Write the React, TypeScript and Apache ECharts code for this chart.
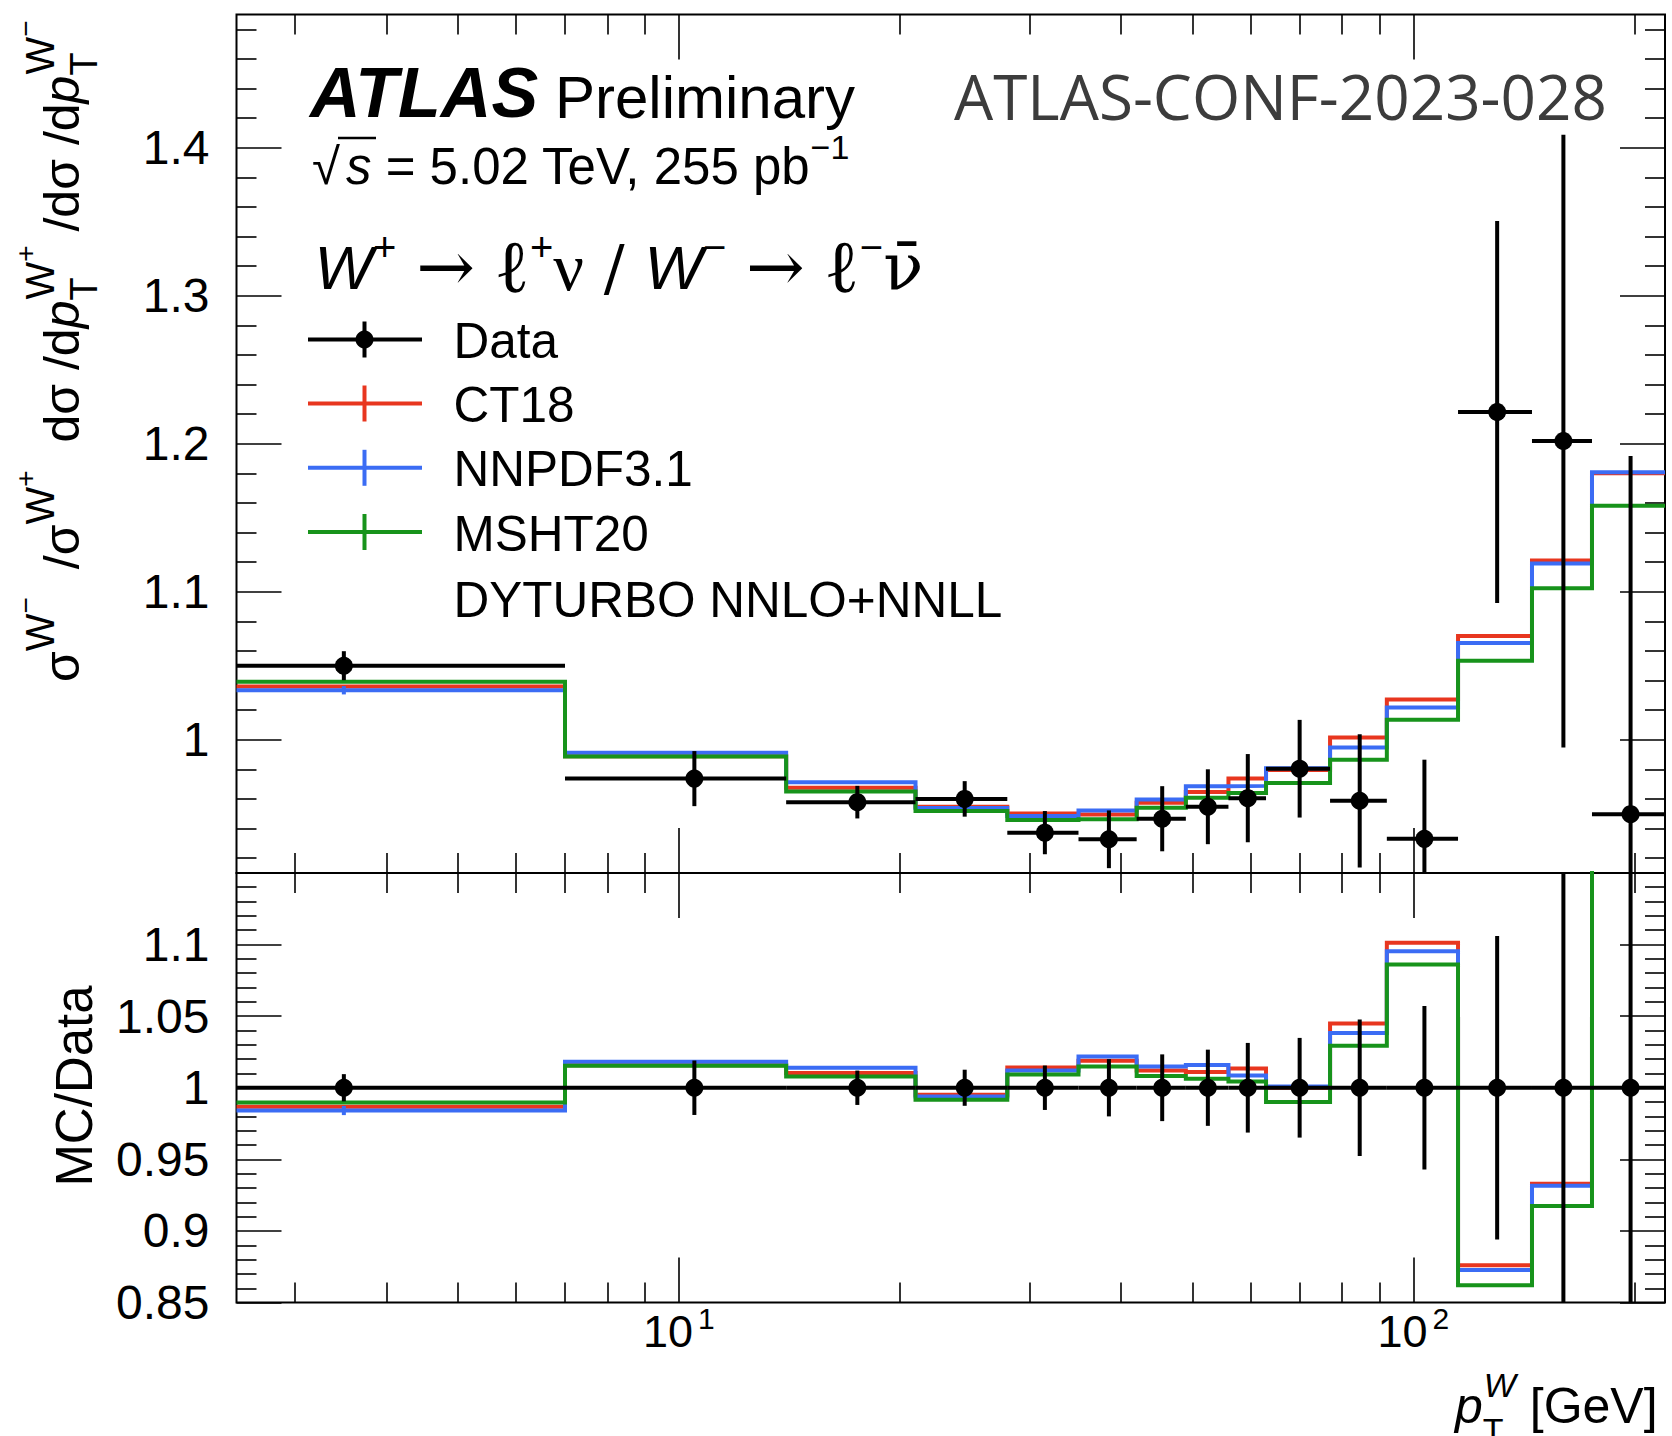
import React, { useEffect, useRef } from 'react';
import * as echarts from 'echarts';

// ---------------- data ----------------
const binEdges = [0, 7, 14, 21, 28, 35, 42, 49, 56, 63, 77, 92, 115, 145, 175, 220];
const binCenters = [3.5, 10.5, 17.5, 24.5, 31.5, 38.5, 45.5, 52.5, 59.5, 70, 84.5, 103.5, 130, 160, 197.5];

const dataMain = [1.050, 0.9737, 0.9578, 0.9600, 0.9372, 0.9327, 0.9466, 0.9547, 0.9605, 0.9804, 0.9587, 0.9330, 1.2214, 1.2018, 0.9497];
const dataMainErr = [0.0098, 0.0186, 0.0110, 0.0120, 0.0146, 0.0195, 0.0220, 0.0253, 0.0298, 0.0330, 0.0450, 0.0535, 0.1290, 0.2070, 0.2420];
const ct18Main = [1.0359, 0.9889, 0.9675, 0.9547, 0.9502, 0.9495, 0.9574, 0.9646, 0.9737, 0.9795, 1.0015, 1.0271, 1.0701, 1.1210, 1.1800];
const nnpdfMain = [1.0334, 0.9911, 0.9712, 0.9538, 0.9484, 0.9522, 0.9596, 0.9686, 0.9688, 0.9807, 0.9948, 1.0217, 1.0653, 1.1190, 1.1807];
const nnpdfMainErr = [0.0028, 0, 0, 0, 0, 0, 0, 0, 0, 0, 0, 0, 0, 0, 0];
const mshtMain = [1.0391, 0.9886, 0.9650, 0.9518, 0.9457, 0.9462, 0.9540, 0.9608, 0.9640, 0.9708, 0.9864, 1.0135, 1.0533, 1.1024, 1.1581];

const dataRatio = [1, 1, 1, 1, 1, 1, 1, 1, 1, 1, 1, 1, 1, 1, 1];
const dataRatioErr = [0.0095, 0.0190, 0.0120, 0.0126, 0.0155, 0.0200, 0.0233, 0.0266, 0.0313, 0.0348, 0.0476, 0.0570, 0.1060, 0.1720, 0.2550];
const ct18Ratio = [0.9867, 1.0157, 1.0103, 0.9951, 1.0142, 1.0189, 1.0121, 1.0110, 1.0135, 1.0000, 1.0448, 1.1012, 0.8760, 0.9329, 1.2430];
const nnpdfRatio = [0.9841, 1.0182, 1.0140, 0.9939, 1.0121, 1.0219, 1.0149, 1.0159, 1.0086, 1.0008, 1.0382, 1.0953, 0.8727, 0.9315, 1.2430];
const nnpdfRatioErr = [0.0032, 0, 0, 0, 0, 0, 0, 0, 0, 0, 0, 0, 0, 0, 0];
const mshtRatio = [0.9897, 1.0154, 1.0079, 0.9916, 1.0093, 1.0149, 1.0082, 1.0063, 1.0044, 0.9900, 1.0294, 1.0860, 0.8622, 0.9175, 1.2190];

// ---------------- axes / ticks ----------------
const xRange = [2.5, 220];
const xMajorTicks = [10, 100];
const xMinorTicks = [3, 4, 5, 6, 7, 8, 9, 20, 30, 40, 50, 60, 70, 80, 90, 200];
const upperRange = [0.91, 1.49];
const upperLabels = [1, 1.1, 1.2, 1.3, 1.4];
const upperMinor = [0.92, 0.94, 0.96, 0.98, 1.02, 1.04, 1.06, 1.08, 1.12, 1.14, 1.16, 1.18, 1.22, 1.24, 1.26, 1.28, 1.32, 1.34, 1.36, 1.38, 1.42, 1.44, 1.46, 1.48];
const lowerRange = [0.85, 1.15];
const lowerLabels = [0.85, 0.9, 0.95, 1, 1.05, 1.1];
const lowerMinor = [0.86, 0.87, 0.88, 0.89, 0.91, 0.92, 0.93, 0.94, 0.96, 0.97, 0.98, 0.99, 1.01, 1.02, 1.03, 1.04, 1.06, 1.07, 1.08, 1.09, 1.11, 1.12, 1.13, 1.14];

const legendLabels = ['Data', 'CT18', 'NNPDF3.1', 'MSHT20', 'DYTURBO NNLO+NNLL'];

// ---------------- style ----------------
const FONT = '"Liberation Sans", Arial, Helvetica, sans-serif';
const SERIF = '"Liberation Serif", "DejaVu Serif", serif';
const DSERIF = '"DejaVu Serif", serif';
const CONF_FONT = '"Open Sans", "Noto Sans", sans-serif';
const COL_CT18 = '#e8361f';
const COL_NNPDF = '#3b6cf4';
const COL_MSHT = '#17931b';

const lg = (v: number) => Math.log10(v);

const G_LEFT = 236.5;
const G_WIDTH = 1428.5;
const G0_TOP = 14.5;
const G0_H = 858.4;
const G1_TOP = 872.9;
const G1_H = 429.7;
const MAJOR_LEN = 45;
const MINOR_LEN = 20;
const TICK_W = 1.6;

function stepLine(vals: number[]) {
  const pts: number[][] = [];
  vals.forEach((v, i) => {
    pts.push([lg(Math.max(binEdges[i], xRange[0])), v]);
    pts.push([lg(Math.min(binEdges[i + 1], xRange[1])), v]);
  });
  return pts;
}

function pointRows(vals: number[], errs: number[]) {
  return vals.map((v, i) => [
    lg(binCenters[i]),
    v,
    errs[i],
    lg(Math.max(binEdges[i], xRange[0])),
    lg(Math.min(binEdges[i + 1], xRange[1])),
  ]);
}

const renderData = (params: any, api: any) => {
  const cx = api.value(0);
  const v = api.value(1);
  const e = api.value(2);
  const xl = api.value(3);
  const xr = api.value(4);
  const c = api.coord([cx, v]);
  const l = api.coord([xl, v]);
  const r = api.coord([xr, v]);
  const t = api.coord([cx, v + e]);
  const b = api.coord([cx, v - e]);
  const cs = params.coordSys;
  const top = cs.y;
  const bot = cs.y + cs.height;
  const cl = (y: number) => Math.min(bot, Math.max(top, y));
  return {
    type: 'group',
    children: [
      { type: 'line', shape: { x1: l[0], y1: c[1], x2: r[0], y2: c[1] }, style: { stroke: '#000', lineWidth: 4 } },
      { type: 'line', shape: { x1: c[0], y1: cl(t[1]), x2: c[0], y2: cl(b[1]) }, style: { stroke: '#000', lineWidth: 4 } },
      { type: 'circle', shape: { cx: c[0], cy: c[1], r: 9 }, style: { fill: '#000' } },
    ],
  };
};

const makeRenderMcErr = (color: string) => (params: any, api: any) => {
  const cx = api.value(0);
  const v = api.value(1);
  const e = api.value(2);
  if (!(e > 0)) return { type: 'group', children: [] };
  const t = api.coord([cx, v + e]);
  const b = api.coord([cx, v - e]);
  return { type: 'line', shape: { x1: t[0], y1: t[1], x2: b[0], y2: b[1] }, style: { stroke: color, lineWidth: 4 } };
};

function xAxisDef(gridIndex: number, position: string, values: number[], len: number, labels: boolean) {
  return {
    type: 'value',
    gridIndex,
    position,
    min: lg(xRange[0]),
    max: lg(xRange[1]),
    axisLine: { show: false, onZero: false },
    splitLine: { show: false },
    axisTick: { show: true, inside: true, length: len, customValues: values.map(lg), lineStyle: { color: '#000', width: TICK_W } },
    axisLabel: labels
      ? {
          show: true,
          customValues: xMajorTicks.map(lg),
          margin: 7,
          formatter: (v: number) => `{b|10}{s|${Math.round(v)}}`,
          rich: {
            b: { fontSize: 45, fontFamily: FONT, color: '#000', lineHeight: 44, verticalAlign: 'middle' },
            s: { fontSize: 30, fontFamily: FONT, color: '#000', lineHeight: 44, height: 18, verticalAlign: 'top', padding: [0, 0, 0, 5] },
          },
        }
      : { show: false },
  };
}

function yAxisDef(gridIndex: number, position: string, range: number[], values: number[], len: number, labels: number[] | null) {
  return {
    type: 'value',
    gridIndex,
    position,
    min: range[0],
    max: range[1],
    axisLine: { show: false, onZero: false },
    splitLine: { show: false },
    axisTick: { show: true, inside: true, length: len, customValues: values, lineStyle: { color: '#000', width: TICK_W } },
    axisLabel: labels
      ? {
          show: true,
          customValues: labels,
          margin: 27,
          fontSize: 48,
          fontFamily: FONT,
          color: '#000',
          formatter: (v: number) => String(Number(Number(v).toFixed(2))),
        }
      : { show: false },
  };
}

const mcSeries = (name: string, vals: number[], color: string, xi: number, yi: number, z: number) => ({
  name,
  type: 'line',
  xAxisIndex: xi,
  yAxisIndex: yi,
  data: stepLine(vals),
  symbol: 'none',
  showSymbol: false,
  clip: true,
  z,
  silent: true,
  lineStyle: { color, width: 4, join: 'miter', cap: 'butt' },
});

const mcErrSeries = (vals: number[], errs: number[], color: string, xi: number, yi: number, z: number) => ({
  type: 'custom',
  xAxisIndex: xi,
  yAxisIndex: yi,
  z,
  silent: true,
  encode: { x: 0, y: 1 },
  data: pointRows(vals, errs),
  renderItem: makeRenderMcErr(color),
});

const dataSeries = (vals: number[], errs: number[], xi: number, yi: number) => ({
  name: 'Data',
  type: 'custom',
  xAxisIndex: xi,
  yAxisIndex: yi,
  z: 10,
  silent: true,
  encode: { x: 0, y: 1 },
  data: pointRows(vals, errs),
  renderItem: renderData,
});

// rich-text helpers: every token shares line height L; a superscript/subscript
// is shifted by d from the line centre through its box height (L - 2d).
const tok = (fs: number, L: number, family: string, extra: any = {}) => ({
  fontSize: fs, lineHeight: L, fontFamily: family, verticalAlign: 'middle', align: 'left', fill: '#000', ...extra,
});
const supTok = (fs: number, L: number, d: number, family: string, extra: any = {}) => ({
  fontSize: fs, lineHeight: L, height: L - 2 * d, fontFamily: family, verticalAlign: 'top', align: 'left', fill: '#000', ...extra,
});
const subTok = (fs: number, L: number, d: number, family: string, extra: any = {}) => ({
  fontSize: fs, lineHeight: L, height: L - 2 * d, fontFamily: family, verticalAlign: 'bottom', align: 'left', fill: '#000', ...extra,
});

function buildGraphic() {
  const els: any[] = [];
  // ATLAS Preliminary
  els.push({ type: 'text', x: 310, y: 92.5, z: 50, style: { text: 'ATLAS', fontFamily: FONT, fontSize: 70, fontWeight: 'bold', fontStyle: 'italic', fill: '#000', align: 'left', verticalAlign: 'middle' } });
  els.push({ type: 'text', x: 555, y: 97.1, z: 50, style: { text: 'Preliminary', fontFamily: FONT, fontSize: 60, fill: '#000', align: 'left', verticalAlign: 'middle' } });
  // sqrt(s) line
  els.push({
    type: 'text', x: 312, y: 166.7, z: 50,
    style: {
      text: '{r|√}{si|s}{m| = 5.02 TeV, 255 pb}{sp|−1}', align: 'left', verticalAlign: 'middle',
      rich: {
        r: tok(51, 70, FONT),
        si: tok(51, 70, FONT, { fontStyle: 'italic', padding: [0, 0, 0, 6] }),
        m: tok(51, 70, FONT),
        sp: supTok(34, 70, 20, FONT),
      },
    },
  });
  els.push({ type: 'line', z: 50, shape: { x1: 338, y1: 138, x2: 376, y2: 138 }, style: { stroke: '#000', lineWidth: 2.5 } });
  // conference note
  els.push({ type: 'text', x: 954, y: 96, z: 50, style: { text: 'ATLAS-CONF-2023-028', fontFamily: CONF_FONT, fontSize: 62, fill: '#3c3c3c', align: 'left', verticalAlign: 'middle' } });
  // process header
  els.push({
    type: 'text', x: 314.6, y: 267.4, z: 50,
    style: {
      text: '{w|W}{s|+}{sp| }{a|→}{sp| }{l|ℓ}{s|+}{n|ν}{sp| / }{w|W}{s|−}{sp| }{a|→}{sp| }{l|ℓ}{s|−}{nb|ν̄}',
      align: 'left', verticalAlign: 'middle',
      rich: {
        w: tok(62, 90, FONT, { fontStyle: 'italic' }),
        s: supTok(40, 90, 20, FONT),
        sp: tok(62, 90, DSERIF),
        a: tok(70, 90, DSERIF),
        l: tok(74, 90, SERIF),
        n: tok(68, 90, SERIF),
        nb: tok(66, 90, DSERIF),
      },
    },
  });
  // legend
  const rowY = [339.5, 403.5, 467.8, 532, 598];
  const rowCol = ['#000', COL_CT18, COL_NNPDF, COL_MSHT];
  legendLabels.forEach((lab, i) => {
    els.push({ type: 'text', x: 453.5, y: rowY[i] + 1, z: 50, style: { text: lab, fontFamily: FONT, fontSize: 49.5, fill: '#000', align: 'left', verticalAlign: 'middle' } });
    if (i < 4) {
      els.push({ type: 'line', z: 50, shape: { x1: 308, y1: rowY[i], x2: 422, y2: rowY[i] }, style: { stroke: rowCol[i], lineWidth: 4 } });
      els.push({ type: 'line', z: 50, shape: { x1: 364.5, y1: rowY[i] - 18, x2: 364.5, y2: rowY[i] + 18 }, style: { stroke: rowCol[i], lineWidth: 4 } });
      if (i === 0) els.push({ type: 'circle', z: 51, shape: { cx: 364.5, cy: rowY[i], r: 9 }, style: { fill: '#000' } });
    }
  });
  // upper y title (rotated, reads bottom to top)
  els.push({
    type: 'text', x: 62, y: 682, rotation: Math.PI / 2, z: 50,
    style: {
      text: '{m|σ}{w|W}{ws|−}{m|  /σ}{w|W}{ws|+}{m|  dσ /d}{pi|p}{t|T}{w|W}{ws|+}{m| /dσ /d}{pi|p}{t|T}{w|W}{ws|−}',
      align: 'left', verticalAlign: 'middle',
      rich: {
        m: tok(50, 80, FONT),
        pi: tok(50, 80, FONT, { fontStyle: 'italic' }),
        w: supTok(40, 80, 22, FONT),
        ws: supTok(28, 80, 37, FONT),
        t: subTok(38, 80, 22, FONT, { width: 1 }),
      },
    },
  });
  // lower y title
  els.push({ type: 'text', x: 74, y: 1086, rotation: Math.PI / 2, z: 50, style: { text: 'MC/Data', fontFamily: FONT, fontSize: 51, fill: '#000', align: 'center', verticalAlign: 'middle' } });
  // x title
  els.push({
    type: 'text', x: 1455, y: 1405.5, z: 50,
    style: {
      text: '{p|p}{t|T}{w|W}{m| [GeV]}', align: 'left', verticalAlign: 'middle',
      rich: {
        p: tok(50, 60, FONT, { fontStyle: 'italic' }),
        t: subTok(34, 60, 24, FONT, { width: 1 }),
        w: supTok(34, 60, 21, FONT, { fontStyle: 'italic' }),
        m: tok(50, 60, FONT),
      },
    },
  });
  return els;
}

const option: any = {
  animation: false,
  backgroundColor: '#ffffff',
  textStyle: { fontFamily: FONT },
  grid: [
    { left: G_LEFT, top: G0_TOP, width: G_WIDTH, height: G0_H, show: true, borderColor: '#000', borderWidth: 2, backgroundColor: 'rgba(0,0,0,0)' },
    { left: G_LEFT, top: G1_TOP, width: G_WIDTH, height: G1_H, show: true, borderColor: '#000', borderWidth: 2, backgroundColor: 'rgba(0,0,0,0)' },
  ],
  xAxis: [
    xAxisDef(0, 'bottom', xMajorTicks, MAJOR_LEN, false),
    xAxisDef(0, 'bottom', xMinorTicks, MINOR_LEN, false),
    xAxisDef(0, 'top', xMajorTicks, MAJOR_LEN, false),
    xAxisDef(0, 'top', xMinorTicks, MINOR_LEN, false),
    xAxisDef(1, 'bottom', xMajorTicks, MAJOR_LEN, true),
    xAxisDef(1, 'bottom', xMinorTicks, MINOR_LEN, false),
    xAxisDef(1, 'top', xMajorTicks, MAJOR_LEN, false),
    xAxisDef(1, 'top', xMinorTicks, MINOR_LEN, false),
  ],
  yAxis: [
    yAxisDef(0, 'left', upperRange, upperLabels, MAJOR_LEN, upperLabels),
    yAxisDef(0, 'left', upperRange, upperMinor, MINOR_LEN, null),
    yAxisDef(0, 'right', upperRange, upperLabels, MAJOR_LEN, null),
    yAxisDef(0, 'right', upperRange, upperMinor, MINOR_LEN, null),
    yAxisDef(1, 'left', lowerRange, lowerLabels, MAJOR_LEN, lowerLabels),
    yAxisDef(1, 'left', lowerRange, lowerMinor, MINOR_LEN, null),
    yAxisDef(1, 'right', lowerRange, lowerLabels, MAJOR_LEN, null),
    yAxisDef(1, 'right', lowerRange, lowerMinor, MINOR_LEN, null),
  ],
  series: [
    mcSeries('CT18', ct18Main, COL_CT18, 0, 0, 3),
    mcSeries('NNPDF3.1', nnpdfMain, COL_NNPDF, 0, 0, 4),
    mcErrSeries(nnpdfMain, nnpdfMainErr, COL_NNPDF, 0, 0, 4),
    mcSeries('MSHT20', mshtMain, COL_MSHT, 0, 0, 5),
    dataSeries(dataMain, dataMainErr, 0, 0),
    mcSeries('CT18 ratio', ct18Ratio, COL_CT18, 4, 4, 3),
    mcSeries('NNPDF3.1 ratio', nnpdfRatio, COL_NNPDF, 4, 4, 4),
    mcErrSeries(nnpdfRatio, nnpdfRatioErr, COL_NNPDF, 4, 4, 4),
    mcSeries('MSHT20 ratio', mshtRatio, COL_MSHT, 4, 4, 5),
    dataSeries(dataRatio, dataRatioErr, 4, 4),
  ],
  graphic: { elements: buildGraphic() },
};

export default function App() {
  const ref = useRef<HTMLDivElement>(null);
  useEffect(() => {
    if (!ref.current) return;
    const chart = echarts.init(ref.current, null, { renderer: 'svg', width: 1672, height: 1436 });
    chart.setOption(option);
    return () => chart.dispose();
  }, []);
  return (
    <div
      ref={ref}
      style={{ position: 'absolute', left: 0, top: 0, width: 1672, height: 1436, background: '#fff' }}
    />
  );
}
